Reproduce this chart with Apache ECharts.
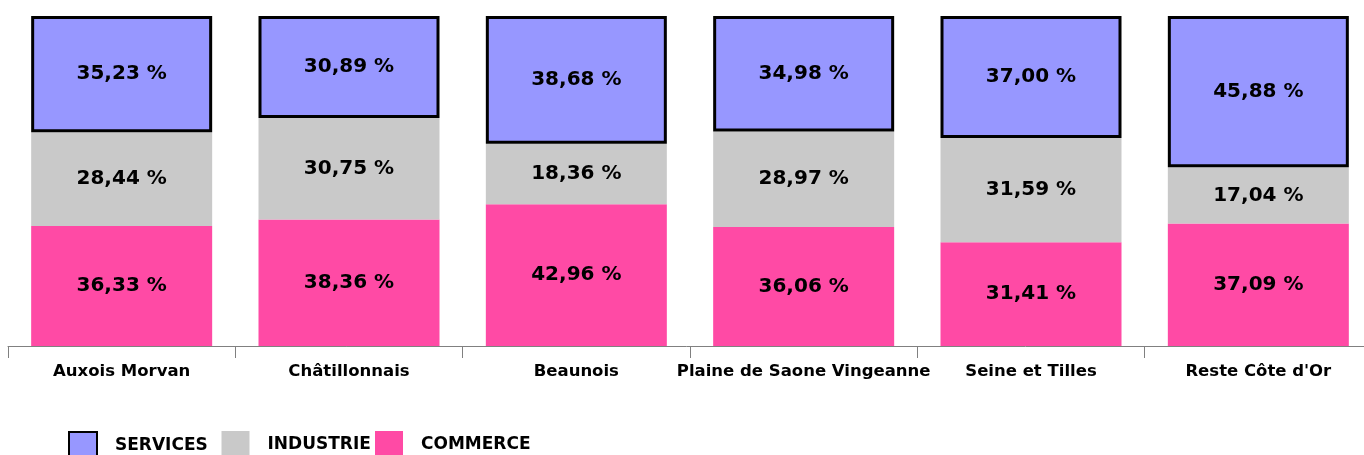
<!DOCTYPE html>
<html>
<head>
<meta charset="utf-8">
<script src="https://cdn.jsdelivr.net/npm/echarts@6/dist/echarts.min.js"></script>
<style>
html, body { margin: 0; padding: 0; background: #fff; }
#chart { width: 1364px; height: 455px; }
</style>
</head>
<body>
<div id="chart"></div>
<script>
// zones and shares (%)
var zones = ['Auxois Morvan', 'Châtillonnais', 'Beaunois', 'Plaine de Saone Vingeanne', 'Seine et Tilles', "Reste Côte d'Or"];
var commerce = [36.33, 38.36, 42.96, 36.06, 31.41, 37.09];
var industrie = [28.44, 30.75, 18.36, 28.97, 31.59, 17.04];
var services = [35.23, 30.89, 38.68, 34.98, 37.00, 45.88];
var legendNames = ['SERVICES', 'INDUSTRIE', 'COMMERCE'];

var font = 'DejaVu Sans, Verdana, sans-serif';

function pct(p) {
	return p.value.toFixed(2).replace('.', ',') + ' %';
}

var label = {
	show : true,
	position : 'inside',
	color : '#000',
	fontFamily : font,
	fontWeight : 'bold',
	fontSize : 20,
	formatter : pct
};

// one legend per item, evenly spaced like the original
var legends = [];
for (var i = 0; i < legendNames.length; i++) {
	legends.push({
		data : [legendNames[i]],
		left : 68 + i * 153.5,
		top : 431,
		padding : 0,
		icon : 'rect',
		itemWidth : 28,
		itemHeight : 28,
		textStyle : {
			color : '#000',
			fontFamily : font,
			fontWeight : 'bold',
			fontSize : 17,
			padding : [0, 0, 0, 13]
		}
	});
}

var myChart = echarts.init(document.getElementById('chart'));
var option = {
	animation : false,
	grid : {
		left : 8,
		width : 1364,
		top : 16,
		bottom : 109,
		outerBoundsMode : 'none'
	},
	legend : legends,
	xAxis : {
		type : 'category',
		data : zones,
		axisLine : {
			lineStyle : { color : '#808080', width : 1 }
		},
		axisTick : {
			show : true,
			alignWithLabel : false,
			length : 12,
			lineStyle : { color : '#808080' }
		},
		axisLabel : {
			interval : 0,
			margin : 17,
			color : '#000',
			fontFamily : font,
			fontWeight : 'bold',
			fontSize : 16.5
		}
	},
	yAxis : {
		type : 'value',
		min : 0,
		max : 100,
		show : false,
		splitLine : { show : false }
	},
	series : [ {
		name : 'COMMERCE',
		type : 'bar',
		stack : 'total',
		barWidth : 181,
		data : commerce,
		itemStyle : { color : '#FF4AA5' },
		label : label
	}, {
		name : 'INDUSTRIE',
		type : 'bar',
		stack : 'total',
		barWidth : 181,
		data : industrie,
		itemStyle : { color : '#C9C9C9' },
		label : label
	}, {
		name : 'SERVICES',
		type : 'bar',
		stack : 'total',
		barWidth : 181,
		data : services,
		itemStyle : { color : '#9797FF', borderColor : '#000', borderWidth : 3 },
		label : label
	} ]
};
myChart.setOption(option);
</script>
</body>
</html>
